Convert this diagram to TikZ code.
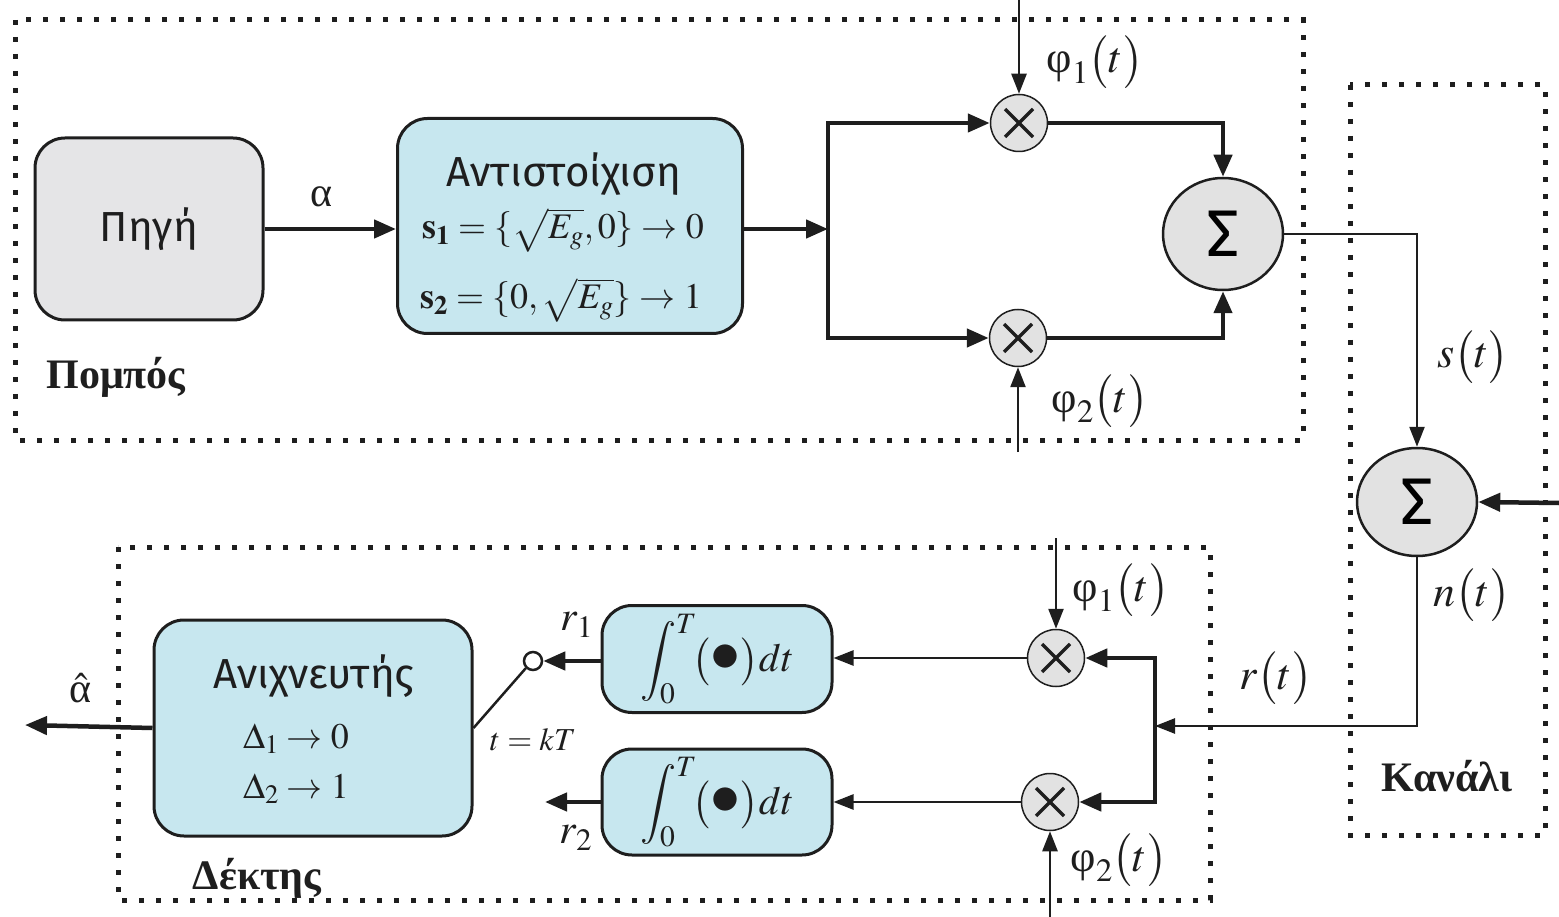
\documentclass[tikz,border=0pt]{standalone}
\usepackage{mathptmx}
\usepackage[no-math]{fontspec}
\setmainfont{Liberation Serif}
\newfontfamily\sansgr{Fira Sans}
\usetikzlibrary{arrows.meta,shapes.geometric}
\definecolor{boxgray}{RGB}{229,229,231}
\definecolor{boxblue}{RGB}{199,231,239}
\definecolor{circgray}{RGB}{226,226,226}
\definecolor{ink}{RGB}{30,30,30}
\newcommand{\phit}[1]{\mbox{φ}_{#1}\bigl(t\bigr)}
\newcommand{\fs}[1]{\fontsize{#1}{#1}\selectfont}
\tikzset{
  frame/.style={draw=ink, line width=5pt, dash pattern=on 5pt off 12pt},
  blockbox/.style={draw=ink, line width=3pt, rounded corners=30pt, inner sep=0pt},
  multnode/.style={circle, draw=ink, line width=1.5pt, fill=circgray, minimum size=57pt, inner sep=0pt,
    path picture={\draw[line width=3.5pt, ink]
      ([xshift=-14pt,yshift=-14pt]path picture bounding box.center) -- ([xshift=14pt,yshift=14pt]path picture bounding box.center)
      ([xshift=-14pt,yshift=14pt]path picture bounding box.center) -- ([xshift=14pt,yshift=-14pt]path picture bounding box.center);}},
  sumnode/.style={ellipse, draw=ink, line width=2.5pt, fill=circgray, minimum width=120pt, minimum height=112pt, inner sep=0pt, font=\sansgr\fs{66}},
  thickarr/.style={draw=ink, line width=4.5pt, -{Triangle[length=22pt,width=18pt]}},
  thinarr/.style={draw=ink, line width=2.5pt, -{Triangle[length=20pt,width=15pt]}},
  plainline/.style={draw=ink, line width=2.5pt},
  lbl/.style={text=ink, inner sep=0pt, font=\fs{36}},
  biglbl/.style={text=ink, inner sep=0pt, font=\fs{44}},
  sanslbl/.style={text=ink, inner sep=0pt, font=\sansgr\fs{42}},
  titlelbl/.style={text=ink, inner sep=0pt, font=\bfseries\fs{42}},
}
\begin{document}
\begin{tikzpicture}[x=1pt, y=-1pt]
\useasboundingbox (0,0) rectangle (1559,917);
% frames
\draw[frame] (15,20) rectangle (1303,440);
\draw[frame] (1350,85) rectangle (1545,835);
\draw[frame] (118,547) rectangle (1210,900);
\node[titlelbl] (tx) at (116,377) {Πομπός};
\node[titlelbl] (rx) at (257,878) {Δέκτης};
\node[titlelbl] (ch) at (1447,776) {Κανάλι};

% transmitter
\node[blockbox, fill=boxgray, minimum width=228pt, minimum height=182pt, font=\sansgr\fs{42}, text=ink] (src) at (149,229) {\raisebox{-4pt}{Πηγή}};
\node[blockbox, fill=boxblue, minimum width=345pt, minimum height=215pt] (map) at (570,226) {};
\node[sanslbl, anchor=base] (mapt) at (564,187) {Αντιστοίχιση};
\node[lbl, anchor=base] (maps1) at (563,239) {$\mathbf{s}_{\mathbf{1}}=\{\sqrt{E_g},0\}\rightarrow 0$};
\node[lbl, anchor=base] (maps2) at (561,309) {$\mathbf{s}_{\mathbf{2}}=\{0,\sqrt{E_g}\}\rightarrow 1$};
\draw[thickarr] (src.east) -- (src.east -| map.west);
\node[lbl, font=\fs{42}] (alab) at (321,197) {α};

\coordinate (jt) at (828,229);
\node[multnode] (m1) at (1019,123) {};
\node[multnode] (m2) at (1018,338) {};
\draw[thickarr] (map.east |- jt) -- (jt);
\draw[thickarr] (jt) |- (m1.west);
\draw[thickarr] (jt) |- (m2.west);
\coordinate (p1) at (1019,0);
\coordinate (p2) at (1018,452);
\draw[thinarr] (p1) -- (m1.north);
\draw[thinarr] (p2) -- (m2.south);
\node[biglbl] (p1lab) at (1095,62) {$\phit{1}$};
\node[biglbl] (p2lab) at (1100,401) {$\phit{2}$};

\node[sumnode] (s1) at (1223,234) {Σ};
\draw[thickarr] (m1.east) -| (s1.north);
\draw[thickarr] (m2.east) -| (s1.south);

% channel
\node[sumnode, minimum height=108pt] (cs) at (1417,502) {Σ};
\draw[thinarr] (s1.east) -| (cs.north);
\node[biglbl] (slab) at (1473,357) {$s\bigl(t\bigr)$};
\coordinate (nz) at (1559,503);
\draw[thickarr] (nz) -- (cs.east);
\node[biglbl] (nlab) at (1472,595) {$n\bigl(t\bigr)$};
\coordinate (rj) at (1155,726);
\draw[thinarr] (cs.south) |- (rj);
\node[biglbl] (rlab) at (1276,678) {$r\bigl(t\bigr)$};

% receiver
\node[multnode] (rm1) at (1056,658) {};
\node[multnode] (rm2) at (1050,802) {};
\draw[thickarr] (rj) |- (rm1.east);
\draw[thickarr] (rj) |- (rm2.east);
\coordinate (q1) at (1056,538);
\coordinate (q2) at (1050,917);
\draw[thinarr] (q1) -- (rm1.north);
\draw[thinarr] (q2) -- (rm2.south);
\node[biglbl] (q1lab) at (1121,590) {$\phit{1}$};
\node[biglbl] (q2lab) at (1119,860) {$\phit{2}$};

\node[blockbox, fill=boxblue, minimum width=230pt, minimum height=107pt, text=ink, font=\fs{40}] (int1) at (717,659)
  {$\displaystyle\int_0^T\!\bigl(\scalebox{1.5}{$\bullet$}\bigr)dt$};
\node[blockbox, fill=boxblue, minimum width=230pt, minimum height=106pt, text=ink, font=\fs{40}] (int2) at (717,802)
  {$\displaystyle\int_0^T\!\bigl(\scalebox{1.5}{$\bullet$}\bigr)dt$};
\draw[thinarr] (rm1.west) -- (rm1.west -| int1.east);
\draw[thinarr] (rm2.west) -- (rm2.west -| int2.east);

\node[circle, draw=ink, line width=2.5pt, fill=white, minimum size=18pt, inner sep=0pt] (sw) at (533,661) {};
\draw[thickarr] (int1.west |- sw) -- (sw.east);
\coordinate (r2end) at (545,802);
\draw[thickarr] (int2.west |- r2end) -- (r2end);
\node[lbl, font=\fs{42}] (r1lab) at (577,625) {$r_1$};
\node[lbl, font=\fs{42}] (r2lab) at (576,838) {$r_2$};

\node[blockbox, fill=boxblue, minimum width=318pt, minimum height=216pt] (det) at (313,728) {};
\node[sanslbl, anchor=base] (dett) at (314,688) {Ανιχνευτής};
\node[lbl, anchor=base] (d1) at (296,748) {$\Delta_1\rightarrow 0$};
\node[lbl, anchor=base] (d2) at (296,798) {$\Delta_2\rightarrow 1$};
\draw[plainline] (det.east) -- (sw.south west);
\node[lbl, font=\fs{32}] (tkt) at (533,740) {$t=kT$};
\coordinate (ahat) at (25,725);
\draw[thickarr] (det.west) -- (ahat);
\node[lbl, font=\fs{42}] (ahlab) at (81,688) {$\hat{\mbox{α}}$};
\end{tikzpicture}
\end{document}
